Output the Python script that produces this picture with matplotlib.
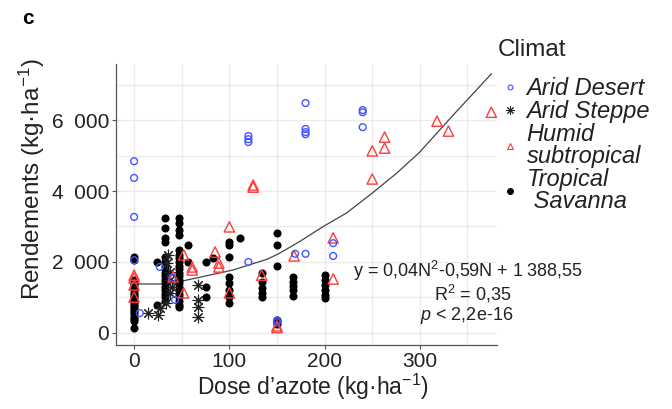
import matplotlib
matplotlib.use("Agg")
import matplotlib.pyplot as plt
from matplotlib.lines import Line2D

plt.rcParams['font.family'] = ['Liberation Sans', 'DejaVu Sans']
plt.rcParams['mathtext.fontset'] = 'custom'
plt.rcParams['mathtext.rm'] = 'Liberation Sans'
plt.rcParams['mathtext.it'] = 'Liberation Sans:italic'

# Arid Desert (cercles bleus)
desert_N = [0, 0, 0, 0, 6, 27, 40, 43, 120, 120, 120, 120, 150, 150,
            169, 180, 180, 180, 180, 180, 209, 209, 240, 240, 240]
desert_Y = [4840, 4370, 3270, 2050, 560, 1860, 1550, 930, 2000, 5550, 5460, 5380, 350, 300,
            2230, 2230, 6480, 5750, 5660, 5600, 2530, 2170, 6280, 6220, 5800]

# Arid Steppe (asterisques)
steppe_N = [15, 25, 27, 33, 38, 36, 35, 38, 38, 40, 67, 67, 67, 67]
steppe_Y = [560, 510, 700, 845, 1130, 2200, 1970, 1720, 1490, 1300, 1350, 930, 730, 450]

# Humid subtropical (triangles rouges)
humid_N = [0, 0, 0, 0, 41, 52, 61, 61, 52, 85, 89, 89, 100, 100, 125, 125, 134,
           150, 150, 168, 209, 209, 250, 250, 263, 263, 318, 330, 375]
humid_Y = [1630, 1550, 1350, 1010, 1580, 2200, 1860, 1775, 1130, 2280, 1970, 1860, 2990, 1130,
           4170, 4110, 1630, 200, 150, 2170, 2680, 1520, 5130, 4340, 5520, 5210, 5970, 5690, 6220]

# Tropical Savanna (points noirs)
savanna_N = ([0] * 22 + [24, 24] + [32] * 17 + [47] * 21 + [57, 57, 75, 75, 75, 83]
             + [100] * 8 + [111] + [134] * 5 + [150] * 6 + [167] * 5 + [200] * 6)
savanna_Y = ([2140, 2050, 1490, 1420, 1350, 1280, 1200, 1130, 1060, 1000, 940, 880, 820,
              760, 700, 640, 580, 520, 460, 400, 340, 140]
             + [2000, 790]
             + [3240, 2960, 2680, 2560, 2140, 2000, 1900, 1800, 1700, 1600, 1500, 1400,
                1300, 1200, 1100, 1000, 900]
             + [3240, 3100, 2900, 2760, 2340, 2200, 2100, 2000, 1900, 1800, 1700, 1600,
                1500, 1400, 1300, 1200, 1100, 1000, 900, 800, 730]
             + [2480, 2000, 2000, 1300, 1010, 2110]
             + [2560, 2480, 2140, 1580, 1410, 1210, 1010, 845]
             + [2680]
             + [1690, 1440, 1270, 1130, 1010]
             + [2820, 2480, 1890, 370, 320, 260]
             + [1580, 1440, 1320, 1210, 1040]
             + [1630, 1490, 1350, 1210, 1070, 990])

# courbe d'ajustement
curve_N = [0, 33, 51, 104, 140, 153, 174, 198, 223, 250, 276, 300, 335, 375]
curve_Y = [1380, 1380, 1465, 1775, 2080, 2250, 2580, 2990, 3380, 3940, 4510, 5100, 6140, 7300]

xticks = [0, 100, 200, 300]
yticks = [0, 2000, 4000, 6000]
ytick_labels = ['0', '2\u2002000', '4\u2002000', '6\u2002000']

blue = '#4455ff'
red = '#ff3b3b'
txt = '#222222'

fig = plt.figure(figsize=(6.72, 4.09), dpi=100)
ax = fig.add_axes([116 / 672, 1 - 345 / 409, (497 - 116) / 672, (345 - 64) / 409])

ax.set_xlim(-19, 381)
ax.set_ylim(-340, 7580)

ax.set_xticks(xticks)
ax.set_xticks([50, 150, 250, 350], minor=True)
ax.set_yticks(yticks)
ax.set_yticks([1000, 3000, 5000, 7000], minor=True)
ax.set_yticklabels(ytick_labels)
ax.grid(True, which='both', color='#ebebeb', linewidth=1.0)
ax.set_axisbelow(True)
ax.tick_params(which='minor', length=0)
ax.tick_params(which='major', length=3, width=0.8, color='#555555', labelsize=15,
               labelcolor=txt, pad=2)

for s in ['top', 'right']:
    ax.spines[s].set_visible(False)
for s in ['left', 'bottom']:
    ax.spines[s].set_color('#555555')
    ax.spines[s].set_linewidth(0.9)

ax.plot(curve_N, curve_Y, color='#444444', lw=0.9, zorder=2)

ax.scatter(savanna_N, savanna_Y, s=34, c='black', marker='o', linewidths=0, zorder=3)
ax.scatter(steppe_N, steppe_Y, s=60, c='#222222', marker=(8, 2, 0), linewidths=0.8, zorder=4)
ax.scatter(humid_N, humid_Y, s=55, facecolors='none', edgecolors=red, marker='^', linewidths=1.0, zorder=4)
ax.scatter(desert_N, desert_Y, s=24, facecolors='none', edgecolors=blue, marker='o', linewidths=1.0, zorder=4)

ax.set_xlabel('Dose d\u2019azote (kg\u00b7ha$^{-1}$)', fontsize=16.5, color=txt)
ax.set_ylabel('Rendements (kg\u00b7ha$^{-1}$)', fontsize=17.5, color=txt)
ax.xaxis.set_label_coords((313 - 116) / 381, (345 - 387) / 281)
ax.xaxis.label.set_va('center')
ax.yaxis.set_label_coords((32 - 116) / 381, (345 - 179) / 281)
ax.yaxis.label.set_va('center')

fig.text(22 / 672, 1 - 19 / 409, 'c', fontsize=15, fontweight='bold', va='center')

# equation
fig.text(468 / 672, 1 - 271 / 409, 'y = 0,04N$^{2}$-0,59N + 1\u2009388,55', fontsize=13,
         ha='center', va='center', color=txt)
fig.text(473 / 672, 1 - 294 / 409, 'R$^{2}$ = 0,35', fontsize=13,
         ha='center', va='center', color=txt)
fig.text(467 / 672, 1 - 316 / 409, '$\\mathit{p}$ < 2,2e-16', fontsize=13,
         ha='center', va='center', color=txt)

# legende
fig.text(498 / 672, 1 - 50 / 409, 'Climat', fontsize=17.5, va='center', ha='left', color=txt)
handles = [
    Line2D([], [], ls='', marker='o', ms=3.5, mfc='none', mec=blue, mew=0.8),
    Line2D([], [], ls='', marker=(8, 2, 0), ms=6, color='#222222', mew=0.7),
    Line2D([], [], ls='', marker='^', ms=4.5, mfc='none', mec=red, mew=0.8),
    Line2D([], [], ls='', marker='o', ms=4, mfc='black', mec='black'),
]
labels = ['Arid Desert', 'Arid Steppe', 'Humid\nsubtropical', 'Tropical\n Savanna']
leg = fig.legend(handles, labels, loc='upper left',
                 bbox_to_anchor=(503 / 672, 1 - 77 / 409), frameon=False,
                 prop={'style': 'italic', 'size': 17}, handlelength=0.6,
                 handletextpad=0.4, labelspacing=0.0, borderaxespad=0, borderpad=0)
for t in leg.get_texts():
    t.set_color(txt)
    t.set_linespacing(0.95)

fig.savefig('out.png', dpi=100)
